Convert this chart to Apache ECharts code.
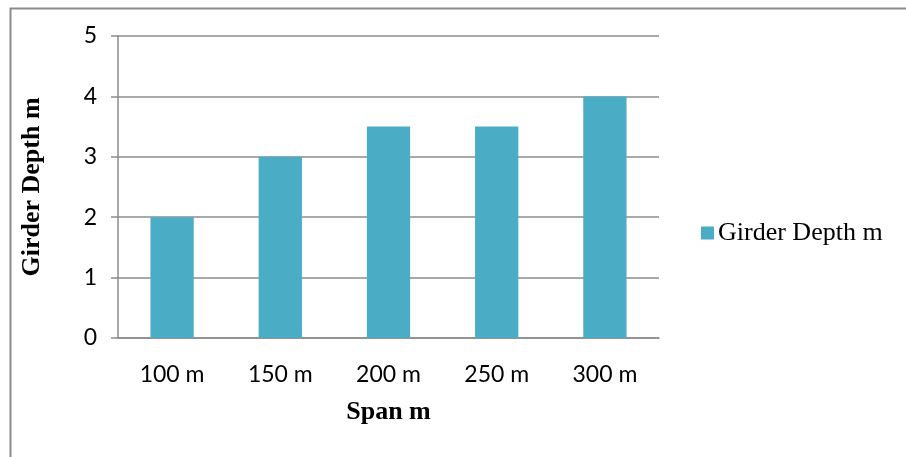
<!DOCTYPE html>
<html><head><meta charset="utf-8">
<script src="https://cdn.jsdelivr.net/npm/echarts@6/dist/echarts.min.js"></script>
<style>html,body{margin:0;padding:0;background:#fff}#c{width:906px;height:457px}</style>
</head><body><div id="c"></div>
<script>
const categories = ['100 m', '150 m', '200 m', '250 m', '300 m'];
const girderDepth = [2, 3, 3.5, 3.5, 4];
const seriesName = 'Girder Depth m';
const xTitle = 'Span m';
const yTitle = 'Girder Depth m';

const chart = echarts.init(document.getElementById('c'), null, {renderer: 'canvas'});
chart.setOption({
  animation: false,
  backgroundColor: '#fff',
  graphic: [{
    type: 'rect', left: 8, top: 6, z: -1,
    shape: {x: 0, y: 0, width: 910, height: 470},
    style: {fill: 'none', stroke: '#8c8c8c', lineWidth: 2}
  }],
  grid: {left: 118, top: 36, width: 541, height: 302, containLabel: false},
  legend: {
    left: 701, top: 220, padding: 0, itemWidth: 13, itemHeight: 13, itemGap: 6,
    icon: 'rect',
    textStyle: {fontFamily: 'Liberation Serif', fontSize: 26, color: '#000', padding: [0,0,0,-1]},
    data: [seriesName]
  },
  xAxis: {
    type: 'category', data: categories,
    name: xTitle, nameLocation: 'middle', nameGap: 61,
    nameTextStyle: {fontFamily: 'Liberation Serif', fontWeight: 'bold', fontSize: 26, color: '#000'},
    axisLine: {lineStyle: {color: '#8c8c8c', width: 1.5}},
    axisTick: {show: false},
    axisLabel: {fontFamily: 'Lato', fontSize: 23, color: '#000', margin: 25}
  },
  yAxis: {
    type: 'value', min: 0, max: 5, interval: 1,
    name: yTitle, nameLocation: 'middle', nameGap: 73, nameRotate: 90,
    nameTextStyle: {fontFamily: 'Liberation Serif', fontWeight: 'bold', fontSize: 26, color: '#000'},
    axisLine: {show: true, lineStyle: {color: '#8c8c8c', width: 1.5}},
    axisTick: {show: true, length: 7, lineStyle: {color: '#8c8c8c', width: 1.5}},
    splitLine: {lineStyle: {color: '#8c8c8c', width: 1.5}},
    axisLabel: {fontFamily: 'Lato', fontSize: 23, color: '#000', margin: 21}
  },
  series: [{
    name: seriesName, type: 'bar', data: girderDepth,
    barWidth: '40%',
    itemStyle: {color: '#4BACC6'}
  }]
});
</script></body></html>
